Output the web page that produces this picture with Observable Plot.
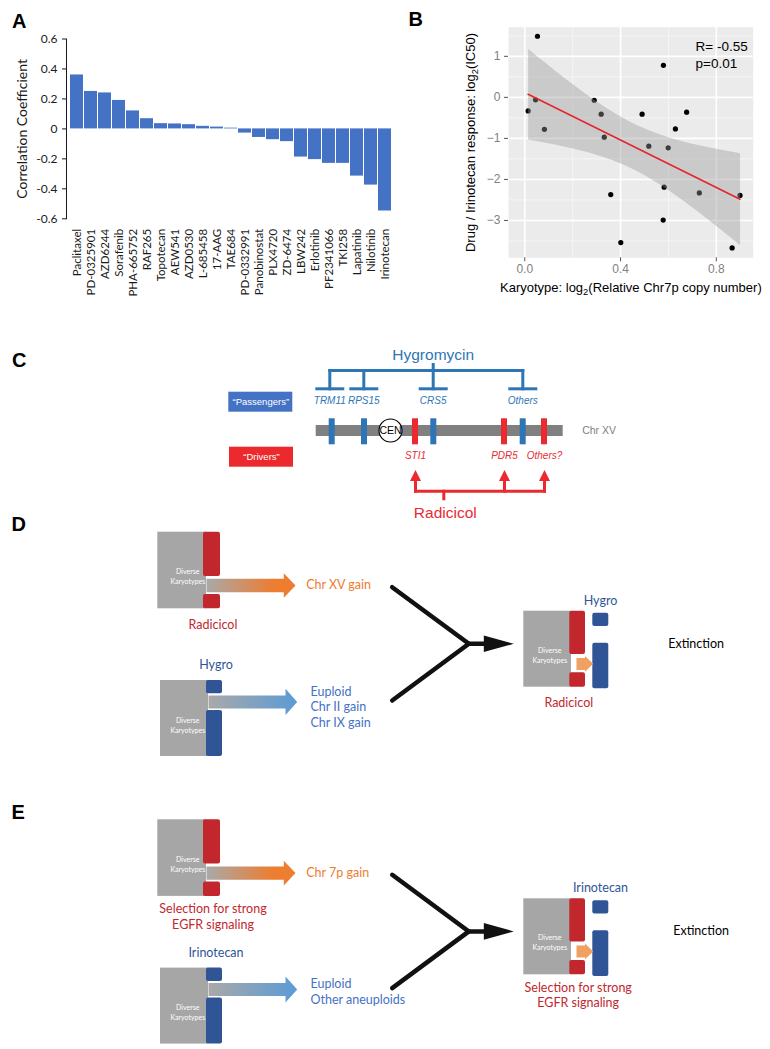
<!DOCTYPE html>
<html><head><meta charset="utf-8">
<script src="https://cdn.jsdelivr.net/npm/d3@7"></script>
<script src="https://cdn.jsdelivr.net/npm/@observablehq/plot@0.6"></script>
<style>
body{margin:0;background:#fff;}
#root{position:relative;width:770px;height:1049px;overflow:hidden;background:#fff;}
#root > svg{position:absolute;background:transparent;}
.lbl{position:absolute;font:bold 20px "Liberation Sans",Arial,sans-serif;line-height:20px;color:#000;}
</style></head><body>
<svg width="0" height="0" style="position:absolute">
<defs>
<linearGradient id="gOrange" x1="0" x2="1" y1="0" y2="0"><stop offset="0" stop-color="#a9a9a9"/><stop offset="0.75" stop-color="#ed7d31"/><stop offset="1" stop-color="#ed7d31"/></linearGradient>
<linearGradient id="gBlue" x1="0" x2="1" y1="0" y2="0"><stop offset="0" stop-color="#a9a9a9"/><stop offset="1" stop-color="#5b9bd5"/></linearGradient>
</defs></svg>
<div id="root">
<div class="lbl" style="left:12px;top:10.7px">A</div>
<div class="lbl" style="left:408.5px;top:9px">B</div>
<div class="lbl" style="left:12px;top:350.4px">C</div>
<div class="lbl" style="left:11.5px;top:514.4px">D</div>
<div class="lbl" style="left:11.5px;top:802.4px">E</div>
</div>
<script>
// ---------------- Panel A data ----------------
const drugs = ["Paclitaxel","PD-0325901","AZD6244","Sorafenib","PHA-665752","RAF265","Topotecan","AEW541","AZD0530","L-685458","17-AAG","TAE684","PD-0332991","Panobinostat","PLX4720","ZD-6474","LBW242","Erlotinib","PF2341066","TKI258","Lapatinib","Nilotinib","Irinotecan"];
const corr = [0.36,0.25,0.24,0.19,0.12,0.068,0.035,0.033,0.028,0.017,0.012,0.005,-0.028,-0.057,-0.072,-0.085,-0.188,-0.205,-0.23,-0.23,-0.315,-0.375,-0.548];
const aTicks = [0.6,0.4,0.2,0,-0.2,-0.4,-0.6];
const aTickLabels = ["0.6","0.4","0.2","0","-0.2","-0.4","-0.6"];
const aYTitle = "Correlation Coefficient";

// ---------------- Panel B data ----------------
const chr7p = [0.014,0.045,0.053,0.082,0.29,0.319,0.332,0.49,0.518,0.579,0.599,0.629,0.676,0.359,0.401,0.582,0.578,0.729,0.899,0.866];
const ic50  = [-0.33,-0.06,1.49,-0.78,-0.07,-0.41,-0.97,-0.41,-1.19,0.78,-1.23,-0.77,-0.36,-2.37,-3.54,-2.19,-2.99,-2.33,-2.39,-3.67];
const bXTicks = [0,0.4,0.8];
const bXLabels = ["0.0","0.4","0.8"];
const bYTicks = [1,0,-1,-2,-3];
const bYLabels = ["1","0","\u22121","\u22122","\u22123"];
const bMinorX = [0.2,0.6];
const bMinorY = [1.5,0.5,-0.5,-1.5,-2.5,-3.5];
const bStats = ["R= -0.55","p=0.01"];
const bXTitle = "Karyotype: log\u2082(Relative Chr7p copy number)";
const bYTitle = "Drug / Irinotecan response: log\u2082(IC50)";

// ---------------- Panel C content ----------------
const passengerGenes = ["TRM11","RPS15","CRS5","Others"];
const driverGenes = ["STI1","PDR5","Others?"];
const cLegend = ["\u201cPassengers\u201d","\u201cDrivers\u201d"];
const cDrugs = ["Hygromycin","Radicicol"];
const chrName = "Chr XV";
const cenLabel = "CEN";

// ---------------- Panels D/E content ----------------
const evoPanels = [
  {panel:"D", topGain:"Chr XV gain", topDrug:["Radicicol"], bottomDrug:"Hygro",
   bottomOutcomes:["Euploid","Chr II gain","Chr IX gain"], rightTop:"Hygro", rightBottom:["Radicicol"], result:"Extinction"},
  {panel:"E", topGain:"Chr 7p gain", topDrug:["Selection for strong","EGFR signaling"], bottomDrug:"Irinotecan",
   bottomOutcomes:["Euploid","Other aneuploids"], rightTop:"Irinotecan", rightBottom:["Selection for strong","EGFR signaling"], result:"Extinction"}
];
const karyoLabel = ["Diverse","Karyotypes"];

// ---------------- layout (page pixels) ----------------
const LC = {
  legendBox: [{x1:228.3,x2:292.3,y1:391.7,y2:411.7},{x1:229,x2:293,y1:446.7,y2:466.7}],
  geneLabelX: [329.3,363.3,432.7,522.3], geneLabelY: 400.7,
  bracketY: 370, stemTop: 364, tBarY: 388.3, tBarHalf: 13, hygroY: 355,
  chr: {x1:315.7,x2:562.7,y1:425,y2:436}, markY1: 418.3, markY2: 444.3, markHalf: 3,
  passengerChrX: [331.7,364,433.3,522.7],
  driverX: [415,504,544], driverLabelY: 455.7,
  cen: {x:390,y:430,r:11.5}, chrLabel:{x:581.7,y:430.5},
  radBarY: 490.7, radStemX: 443.3, radStemBottom: 498.3, headBase: 480.5, headTip: 469.5, headHalf: 5.5, radY: 512.7
};
const LD = [
  {shift:0, topDrugY:624, outFirstY:691, rightBottomX:568.3, rightBottomY:702.3, resultX:667.7},
  {shift:287.6, topDrugY:620.7, outFirstY:695.7, rightBottomX:577.7, rightBottomY:699.7, resultX:672.7}
];

const cBlue = "#2e75b6", cRed = "#ea2a2f";
const dRed = "#c1272d", dBlue = "#2f5597", dLBlue = "#4472c4", dOrange = "#ed7d31", dGray = "#a6a6a6";
const SANS = "'Liberation Sans', Arial, sans-serif";
const CAL = "Lato, 'Open Sans', sans-serif";
const DFS = 12.5;

const root = document.getElementById("root");

function subscriptify(svg){
  const ns = "http://www.w3.org/2000/svg";
  svg.querySelectorAll("text").forEach(t => {
    if (t.children.length === 0 && t.textContent.includes("\u2082")) {
      const [a,b] = t.textContent.split("\u2082");
      t.textContent = "";
      const s1 = document.createElementNS(ns,"tspan"); s1.textContent = a;
      const s2 = document.createElementNS(ns,"tspan"); s2.textContent = "2";
      s2.setAttribute("font-size","0.72em"); s2.setAttribute("dy","0.35em");
      const s3 = document.createElementNS(ns,"tspan"); s3.textContent = b; s3.setAttribute("dy","-0.25em");
      t.append(s1,s2,s3);
    }
  });
}

// ---------------- Panel A ----------------
const tableA = drugs.map((d,i)=>({drug:d, r:corr[i]}));
const plotA = Plot.plot({
  width:400, height:300, marginLeft:66, marginRight:5, marginTop:38.5, marginBottom:81.7,
  style:{fontFamily:CAL, fontSize:"11px", color:"#1a1a1a", background:"transparent"},
  x:{type:"band", domain:drugs, paddingInner:0.1, paddingOuter:0.03, axis:null},
  y:{domain:[-0.6,0.6], axis:null},
  marks:[
    Plot.barY(tableA,{x:"drug", y:"r", fill:"#4472c4"}),
    Plot.frame({anchor:"left", stroke:"#1a1a1a"}),
    Plot.axisY({ticks:aTicks, tickFormat:d=>aTickLabels[aTicks.findIndex(t=>Math.abs(t-d)<1e-9)], tickSize:4, tickPadding:5, fontSize:12, label:null}),
    Plot.axisX({tickRotate:-90, tickSize:0, tickPadding:10, fontSize:11.5, label:null}),
    Plot.text([aYTitle], {frameAnchor:"left", textAnchor:"middle", lineAnchor:"middle", dx:-44, rotate:-90, fontSize:14})
  ]
});
plotA.style.left = "0px"; plotA.style.top = "0px";
root.appendChild(plotA);

// ---------------- Panel B ----------------
const tableB = chr7p.map((x,i)=>({x, y:ic50[i]}));
const plotB = Plot.plot({
  width:370, height:300, marginLeft:108, marginRight:17.3, marginTop:26.7, marginBottom:42.7,
  style:{fontFamily:SANS, fontSize:"12px", color:"#000", background:"transparent"},
  x:{domain:[-0.068,0.954], axis:null},
  y:{domain:[-3.91,1.71], axis:null},
  marks:[
    Plot.frame({fill:"#ebebeb", stroke:"none"}),
    Plot.ruleX(bMinorX,{stroke:"#f6f6f6", strokeWidth:0.9}),
    Plot.ruleY(bMinorY,{stroke:"#f6f6f6", strokeWidth:0.9}),
    Plot.ruleX(bXTicks,{stroke:"#ffffff", strokeWidth:1.6}),
    Plot.ruleY(bYTicks,{stroke:"#ffffff", strokeWidth:1.6}),
    Plot.dot(tableB,{x:"x", y:"y", r:2.6, fill:"#000", stroke:"none"}),
    Plot.linearRegressionY(tableB,{x:"x", y:"y", stroke:"#e3262b", strokeWidth:1.6, fill:"#999999", fillOpacity:0.4}),
    Plot.axisX({ticks:bXTicks, tickFormat:d=>bXLabels[bXTicks.findIndex(t=>Math.abs(t-d)<1e-9)], tickSize:4, tickPadding:3, stroke:"#555", fill:"#7f7f7f", fontSize:12, label:null}),
    Plot.axisY({ticks:bYTicks, tickFormat:d=>bYLabels[bYTicks.indexOf(d)], tickSize:4, tickPadding:4, stroke:"#555", fill:"#7f7f7f", fontSize:12, label:null}),
    Plot.text([bStats.join("\n")], {frameAnchor:"top-right", textAnchor:"start", lineAnchor:"top", dx:-57.7, dy:11.5, fontSize:13.5, lineHeight:1.25}),
    Plot.text([bYTitle], {frameAnchor:"left", textAnchor:"middle", lineAnchor:"middle", dx:-38, rotate:-90, fontSize:13}),
    Plot.text([bXTitle], {frameAnchor:"bottom", textAnchor:"middle", lineAnchor:"middle", dy:30, fontSize:13})
  ]
});
subscriptify(plotB);
plotB.style.left = "400px"; plotB.style.top = "0px";
root.appendChild(plotB);

// ---------------- Panels C, D, E (schematics) ----------------
const rects = [], links = [], polys = [], texts = [], blackPts = [];
// Panel C
LC.legendBox.forEach((b,i)=>{
  rects.push({...b, fill: i===0 ? "#4472c4" : "#ec2a2d", rx:0});
  texts.push({text:cLegend[i], x:(b.x1+b.x2)/2, y:(b.y1+b.y2)/2, fill:"#fff", size:9.5, family:SANS});
});
rects.push({...LC.chr, fill:"#808080", rx:0});
LC.passengerChrX.forEach(x=>rects.push({x1:x-LC.markHalf,x2:x+LC.markHalf,y1:LC.markY1,y2:LC.markY2,fill:cBlue,rx:0}));
LC.driverX.forEach(x=>rects.push({x1:x-LC.markHalf,x2:x+LC.markHalf,y1:LC.markY1,y2:LC.markY2,fill:cRed,rx:0}));
const gx = LC.geneLabelX;
links.push({x1:gx[0],y1:LC.bracketY,x2:gx[3],y2:LC.bracketY,stroke:cBlue});
links.push({x1:gx[2],y1:LC.stemTop,x2:gx[2],y2:LC.bracketY,stroke:cBlue});
passengerGenes.forEach((g,i)=>{
  links.push({x1:gx[i],y1:LC.bracketY,x2:gx[i],y2:LC.tBarY,stroke:cBlue});
  links.push({x1:gx[i]-LC.tBarHalf,y1:LC.tBarY,x2:gx[i]+LC.tBarHalf,y2:LC.tBarY,stroke:cBlue});
  texts.push({text:g, x:gx[i], y:LC.geneLabelY, fill:cBlue, size:10, family:SANS, style:"italic"});
});
texts.push({text:cDrugs[0], x:gx[2], y:LC.hygroY, fill:cBlue, size:15.5, family:SANS});
const dx = LC.driverX;
links.push({x1:dx[0],y1:LC.radBarY,x2:dx[2],y2:LC.radBarY,stroke:cRed});
links.push({x1:LC.radStemX,y1:LC.radBarY,x2:LC.radStemX,y2:LC.radStemBottom,stroke:cRed});
driverGenes.forEach((g,i)=>{
  links.push({x1:dx[i],y1:LC.radBarY,x2:dx[i],y2:LC.headBase,stroke:cRed});
  polys.push({id:"h"+i, fill:cRed, pts:[[dx[i]-LC.headHalf,LC.headBase],[dx[i],LC.headTip],[dx[i]+LC.headHalf,LC.headBase]]});
  texts.push({text:g, x:dx[i], y:LC.driverLabelY, fill:cRed, size:10, family:SANS, style:"italic"});
});
texts.push({text:cDrugs[1], x:LC.radStemX+1.5, y:LC.radY, fill:cRed, size:15.5, family:SANS});
texts.push({text:chrName, x:LC.chrLabel.x, y:LC.chrLabel.y, fill:"#808080", size:10.5, family:SANS, anchor:"start"});
texts.push({text:cenLabel, x:LC.cen.x, y:LC.cen.y+0.5, fill:"#000", size:10.5, family:SANS});

// Panels D & E
evoPanels.forEach((p,k)=>{
  const L = LD[k], s = L.shift;
  rects.push({x1:157.3,x2:206,y1:531.7+s,y2:608.3+s,fill:dGray,rx:0});
  rects.push({x1:203,x2:220,y1:531.7+s,y2:576+s,fill:dRed,rx:2});
  rects.push({x1:203,x2:220,y1:594+s,y2:608.3+s,fill:dRed,rx:2});
  polys.push({id:p.panel+"o", fill:"url(#gOrange)", pts:[[206,578.3+s],[283.3,578.3+s],[283.3,572.7+s],[295,585+s],[283.3,597.3+s],[283.3,591.7+s],[206,591.7+s]]});
  rects.push({x1:160,x2:208,y1:680+s,y2:756+s,fill:dGray,rx:0});
  rects.push({x1:206,x2:222,y1:680+s,y2:693.3+s,fill:dBlue,rx:2});
  rects.push({x1:206,x2:222,y1:710+s,y2:756+s,fill:dBlue,rx:2});
  polys.push({id:p.panel+"b", fill:"url(#gBlue)", pts:[[208,695+s],[285,695+s],[285,688.3+s],[296.7,701.5+s],[285,714.5+s],[285,708+s],[208,708+s]]});
  rects.push({x1:523.3,x2:571,y1:610.7+s,y2:686.7+s,fill:dGray,rx:0});
  rects.push({x1:569.3,x2:585,y1:610.7+s,y2:654+s,fill:dRed,rx:2});
  rects.push({x1:569.3,x2:585,y1:672.3+s,y2:686.7+s,fill:dRed,rx:2});
  rects.push({x1:592.3,x2:608.3,y1:612.7+s,y2:626+s,fill:dBlue,rx:2});
  rects.push({x1:592.3,x2:608.3,y1:642.7+s,y2:688.3+s,fill:dBlue,rx:2});
  polys.push({id:p.panel+"s", fill:"#f0a060", pts:[[576,657.5+s],[584.5,657.5+s],[584.5,655.5+s],[592.7,663.3+s],[584.5,671.2+s],[584.5,669.5+s],[576,669.5+s]]});
  blackPts.push({id:p.panel+"1", x:391.7, y:586.7+s},{id:p.panel+"1", x:468.3, y:643.3+s},{id:p.panel+"1", x:391.7, y:700+s});
  blackPts.push({id:p.panel+"2", x:468.3, y:643.3+s},{id:p.panel+"2", x:487, y:643.3+s});
  polys.push({id:p.panel+"k", fill:"#111", pts:[[483.3,635+s],[513.3,643.3+s],[483.3,651.6+s]]});
  [[187.3,576.7],[187.3,725],[549.3,655]].forEach(([x,y])=>{
    karyoLabel.forEach((t,j)=>texts.push({text:t, x, y:y+s+(j-0.5)*10, fill:"#fff", size:7, family:CAL}));
  });
  texts.push({text:p.topGain, x:305.7, y:584.5+s, fill:dOrange, size:DFS, family:CAL, anchor:"start"});
  p.topDrug.forEach((t,j)=>texts.push({text:t, x:212.5, y:L.topDrugY+s+j*16, fill:dRed, size:DFS, family:CAL}));
  texts.push({text:p.bottomDrug, x:215.5, y:664.5+s, fill:dBlue, size:DFS, family:CAL});
  p.bottomOutcomes.forEach((t,j)=>texts.push({text:t, x:310, y:L.outFirstY+s+j*15.9, fill:dLBlue, size:DFS, family:CAL, anchor:"start"}));
  texts.push({text:p.rightTop, x:600, y:600+s, fill:dBlue, size:DFS, family:CAL});
  p.rightBottom.forEach((t,j)=>texts.push({text:t, x:L.rightBottomX, y:L.rightBottomY+s+j*15.6, fill:dRed, size:DFS, family:CAL}));
  texts.push({text:p.result, x:L.resultX, y:643.3+s, fill:"#000", size:DFS, family:CAL, anchor:"start"});
});

const polyPts = polys.flatMap(p=>p.pts.map(([x,y])=>({id:p.id, fill:p.fill, x, y})));

const plotC = Plot.plot({
  width:770, height:749, margin:0,
  x:{domain:[0,770], range:[0,770], axis:null},
  y:{domain:[300,1049], range:[0,749], axis:null},
  color:{type:"identity"},
  style:{fontFamily:CAL, background:"transparent"},
  marks:[
    Plot.rect(rects.filter(r=>!r.rx),{x1:"x1",x2:"x2",y1:"y1",y2:"y2",fill:"fill"}),
    Plot.rect(rects.filter(r=>r.rx),{x1:"x1",x2:"x2",y1:"y1",y2:"y2",fill:"fill",rx:2}),
    Plot.link(links,{x1:"x1",y1:"y1",x2:"x2",y2:"y2",stroke:"stroke",strokeWidth:3,strokeLinecap:"square"}),
    Plot.line(polyPts,{x:"x",y:"y",z:"id",fill:"fill",stroke:"none",curve:"linear-closed"}),
    Plot.line(blackPts,{x:"x",y:"y",z:"id",stroke:"#111",strokeWidth:4.5,strokeLinejoin:"miter",strokeMiterlimit:10}),
    Plot.dot([LC.cen],{x:"x",y:"y",r:LC.cen.r,fill:"#fff",stroke:"#000",strokeWidth:1.2}),
    ...texts.map(t=>Plot.text([t],{x:"x",y:"y",text:"text",fill:t.fill,fontSize:t.size,fontFamily:t.family,fontStyle:t.style||"normal",textAnchor:t.anchor||"middle"}))
  ]
});
plotC.style.left = "0px"; plotC.style.top = "300px";
root.appendChild(plotC);
</script>
</body></html>
